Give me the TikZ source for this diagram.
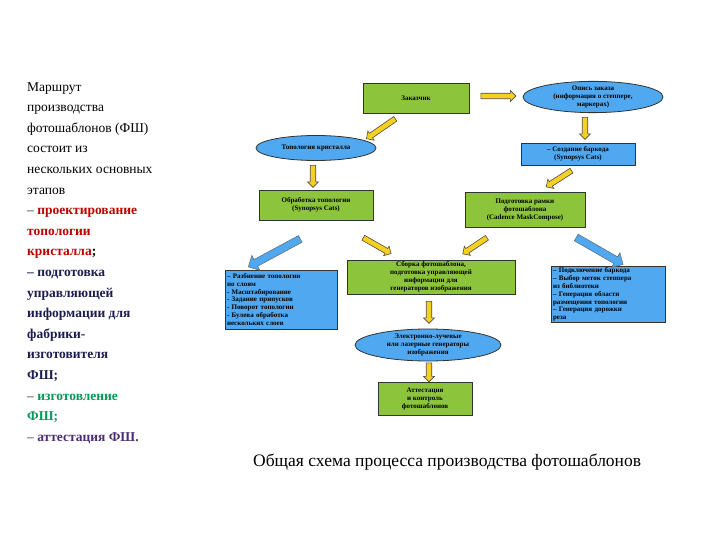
\documentclass[tikz,border=0pt]{standalone}
\usepackage{fontspec}
\setmainfont{Liberation Serif}
\usetikzlibrary{shapes.geometric,shapes.arrows}
\definecolor{gbox}{HTML}{8CC43C}
\definecolor{bbox}{HTML}{4FA8F0}
\definecolor{yarr}{HTML}{F5D020}
\definecolor{tred}{HTML}{C00000}
\definecolor{tnavy}{HTML}{1C1C50}
\definecolor{tgreen}{HTML}{00995A}
\definecolor{tpurp}{HTML}{4B2C72}
\begin{document}
\begin{tikzpicture}[x=1pt,y=-1pt,
  box/.style={draw=black!80,line width=0.8pt,fill=gbox,align=center,font=\fontsize{7}{8}\selectfont\bfseries,inner sep=1pt},
  bl/.style={draw=black!80,line width=0.8pt,fill=bbox,align=center,font=\fontsize{7}{7.8}\selectfont\bfseries,inner sep=1pt},
  ell/.style={ellipse,draw=black!80,line width=0.8pt,fill=bbox,align=center,font=\fontsize{7}{8}\selectfont\bfseries,inner sep=0pt},
  ya/.style={single arrow,draw=black!70,fill=yarr,line width=0.6pt,inner sep=2.2pt,minimum width=11pt,single arrow head extend=2.5pt},
  ba/.style={single arrow,draw=black!60,fill=bbox,line width=0.5pt,inner sep=3pt,minimum width=17pt,single arrow head extend=4pt},
  lt/.style={anchor=north west,inner sep=0pt,font=\fontsize{13.5}{20.6}\selectfont,align=left}]
\useasboundingbox (0,0) rectangle (720,540);
% left text
\node[lt] (txt) at (27,82) {Маршрут\\производства\\фотошаблонов (ФШ)\\состоит из\\нескольких основных\\этапов\\
\textbf{\textcolor{black!60}{–} \textcolor{tred}{проектирование}}\\\textbf{\textcolor{tred}{топологии}}\\\textbf{\textcolor{tred}{кристалла};}\\
\textbf{\textcolor{tnavy}{– подготовка}}\\\textbf{\textcolor{tnavy}{управляющей}}\\\textbf{\textcolor{tnavy}{информации для}}\\\textbf{\textcolor{tnavy}{фабрики-}}\\\textbf{\textcolor{tnavy}{изготовителя}}\\\textbf{\textcolor{tnavy}{ФШ;}}\\
\textbf{\textcolor{black!60}{–} \textcolor{tgreen}{изготовление}}\\\textbf{\textcolor{tgreen}{ФШ;}}\\
\textbf{\textcolor{black!60}{–} \textcolor{tpurp}{аттестация ФШ.}}};
% nodes
\node[box,minimum width=106pt,minimum height=30pt] (zak) at (416,98) {Заказчик};
\node[ell,minimum width=140pt,minimum height=30pt] (opis) at (593,97) {Опись заказа\\(информация о степпере,\\маркерах)};
\node[ell,minimum width=120pt,minimum height=25pt] (topo) at (316,148) {Топология кристалла};
\node[bl,minimum width=114pt,minimum height=22pt] (bar) at (578,154) {– Создание баркода\\(Synopsys Cats)};
\node[box,minimum width=114pt,minimum height=30pt] (obr) at (316,205) {Обработка топологии\\(Synopsys Cats)};
\node[box,minimum width=120pt,minimum height=35pt] (ram) at (525,209.5) {Подготовка рамки\\фотошаблона\\(Cadence MaskCompose)};
\node[box,minimum width=168pt,minimum height=34pt] (sb) at (431,277) {Сборка фотошаблона,\\подготовка управляющей\\информации для\\генераторов изображения};
\node[bl,minimum width=112pt,minimum height=59pt,align=left,text width=108pt] (ll) at (281,299.5) {– Разбиение топологии\\по слоям\\- Масштабирование\\- Задание припусков\\- Поворот топологии\\- Булева обработка\\нескольких слоев};
\node[bl,minimum width=114pt,minimum height=55pt,align=left,text width=110pt] (rl) at (608,294.5) {– Подключение баркода\\– Выбор меток степпера\\из библиотеки\\– Генерация области\\размещения топологии\\– Генерация дорожки\\реза};
\node[ell,minimum width=146pt,minimum height=32pt] (eg) at (428,345) {Электронно-лучевые\\или лазерные генераторы\\изображения};
\node[box,minimum width=94pt,minimum height=33pt] (att) at (425,398.5) {Аттестация\\и контроль\\фотошаблонов};
% arrows
\node[ya,minimum height=35pt,rotate=0] (a1) at (497,96) {};
\node[ya,minimum height=35pt,rotate=214.6] (a2) at (382,128) {};
\node[ya,minimum height=22pt,rotate=270] (a3) at (585,127) {};
\node[ya,minimum height=22pt,rotate=270] (a4) at (313,175) {};
\node[ya,minimum height=30pt,rotate=212.6] (a5) at (560,178) {};
\node[ba,minimum height=59pt,rotate=208.3] (a6) at (276,252) {};
\node[ya,minimum height=32pt,rotate=-29.7] (a7) at (376,245) {};
\node[ya,minimum height=29pt,rotate=213.7] (a8) at (476,245) {};
\node[ba,minimum height=54pt,rotate=-29.9] (a9) at (598,250) {};
\node[ya,minimum height=22pt,rotate=270] (a10) at (429,311) {};
\node[ya,minimum height=19pt,rotate=270] (a11) at (429,371) {};
% caption
\node[anchor=west,inner sep=0pt,font=\fontsize{17.5}{20}\selectfont] (cap) at (253,462) {Общая схема процесса производства фотошаблонов};
\end{tikzpicture}
\end{document}
